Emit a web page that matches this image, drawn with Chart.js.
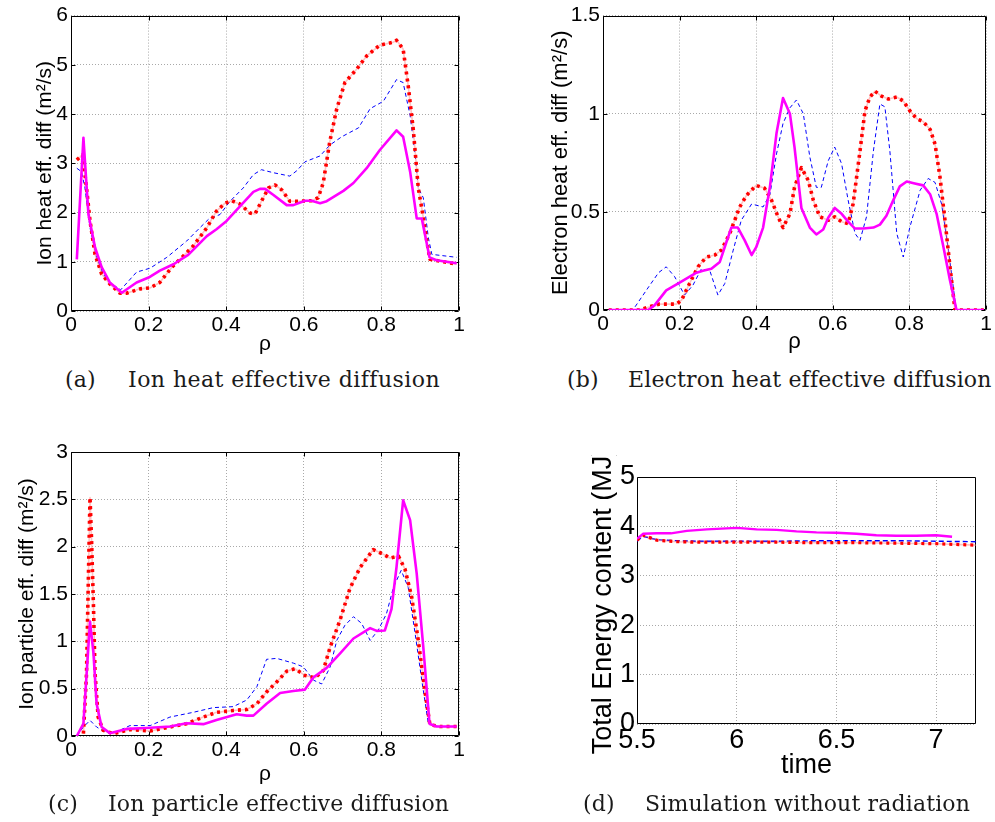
<!DOCTYPE html>
<html>
<head>
<meta charset="utf-8">
<script src="https://cdn.jsdelivr.net/npm/chart.js@4.4.1/dist/chart.umd.min.js"></script>
<style>
  html, body { margin: 0; padding: 0; background: #fff; }
  body { width: 995px; height: 822px; position: relative; overflow: hidden; }
  canvas { position: absolute; }
  .cap { position: absolute; font-family: 'DejaVu Serif', 'Liberation Serif', serif; font-size: 22px;
         line-height: 26px; color: #1a1a1a; white-space: nowrap; letter-spacing: 0.15px; }
</style>
</head>
<body>
<canvas id="panelA"></canvas>
<canvas id="panelB"></canvas>
<canvas id="panelC"></canvas>
<canvas id="panelD"></canvas>

<div class="cap" style="left:65px; top:367px">(a)</div>
<div class="cap" style="left:128px; top:367px; letter-spacing:0.45px">Ion heat effective diffusion</div>
<div class="cap" style="left:567px; top:367px">(b)</div>
<div class="cap" style="left:628px; top:367px">Electron heat effective diffusion</div>
<div class="cap" style="left:48px; top:791px">(c)</div>
<div class="cap" style="left:108px; top:791px">Ion particle effective diffusion</div>
<div class="cap" style="left:583px; top:791px">(d)</div>
<div class="cap" style="left:645px; top:791px">Simulation without radiation</div>

<script>
// ---------- (a) ion heat effective diffusion vs rho ----------
const ionHeatRhoSolid = [0.015, 0.032, 0.045, 0.062, 0.079, 0.10, 0.131, 0.169, 0.20, 0.229, 0.264, 0.302, 0.35, 0.375, 0.401, 0.436, 0.47, 0.487, 0.50, 0.521, 0.556, 0.573, 0.603, 0.62, 0.642, 0.659, 0.702, 0.728, 0.762, 0.796, 0.839, 0.856, 0.874, 0.891, 0.904, 0.924, 0.942, 0.994];
const ionHeatSolid    = [1.05, 3.52, 1.96, 1.29, 0.89, 0.58, 0.37, 0.58, 0.68, 0.82, 0.95, 1.14, 1.52, 1.66, 1.83, 2.13, 2.42, 2.48, 2.48, 2.36, 2.15, 2.15, 2.24, 2.24, 2.19, 2.23, 2.44, 2.6, 2.9, 3.27, 3.67, 3.54, 2.83, 1.88, 1.88, 1.09, 1.03, 0.97];
const ionHeatRhoDotted = [0.015, 0.03, 0.04, 0.049, 0.062, 0.079, 0.10, 0.126, 0.143, 0.178, 0.204, 0.229, 0.26, 0.29, 0.315, 0.35, 0.375, 0.397, 0.414, 0.436, 0.461, 0.474, 0.491, 0.509, 0.526, 0.543, 0.564, 0.59, 0.62, 0.637, 0.65, 0.667, 0.685, 0.706, 0.736, 0.762, 0.796, 0.831, 0.839, 0.856, 0.869, 0.882, 0.895, 0.904, 0.917, 0.925, 0.96, 0.994];
const ionHeatDotted    = [3.07, 3.17, 2.5, 1.83, 1.15, 0.75, 0.55, 0.36, 0.36, 0.45, 0.47, 0.58, 0.89, 1.12, 1.32, 1.69, 2.03, 2.19, 2.24, 2.17, 1.99, 1.97, 2.23, 2.5, 2.56, 2.46, 2.23, 2.23, 2.24, 2.3, 2.6, 3.44, 4.11, 4.64, 4.91, 5.18, 5.40, 5.46, 5.5, 5.32, 4.58, 3.7, 2.5, 2.09, 1.42, 1.05, 1.0, 0.95];
const ionHeatRhoDashed = [0.015, 0.027, 0.036, 0.049, 0.066, 0.083, 0.10, 0.128, 0.169, 0.204, 0.247, 0.298, 0.332, 0.354, 0.384, 0.41, 0.444, 0.47, 0.491, 0.521, 0.564, 0.582, 0.603, 0.642, 0.667, 0.698, 0.741, 0.771, 0.805, 0.839, 0.856, 0.874, 0.887, 0.895, 0.908, 0.921, 0.93, 0.994];
const ionHeatDashed    = [2.9, 2.83, 2.5, 1.69, 1.09, 0.75, 0.58, 0.43, 0.79, 0.87, 1.09, 1.42, 1.69, 1.86, 1.96, 2.23, 2.5, 2.77, 2.87, 2.81, 2.74, 2.85, 3.03, 3.15, 3.37, 3.54, 3.72, 4.11, 4.26, 4.7, 4.64, 3.97, 3.17, 2.5, 2.3, 1.49, 1.15, 1.09];

// ---------- (b) electron heat effective diffusion vs rho ----------
const elecHeatRhoSolid = [0.015, 0.118, 0.135, 0.165, 0.2, 0.244, 0.261, 0.283, 0.305, 0.335, 0.352, 0.37, 0.388, 0.4, 0.418, 0.436, 0.453, 0.47, 0.488, 0.5, 0.518, 0.54, 0.557, 0.575, 0.588, 0.605, 0.623, 0.64, 0.658, 0.68, 0.706, 0.723, 0.74, 0.758, 0.775, 0.793, 0.814, 0.836, 0.854, 0.871, 0.889, 0.906, 0.923, 0.994];
const elecHeatSolid    = [0, 0, 0.025, 0.1, 0.14, 0.19, 0.2, 0.21, 0.245, 0.42, 0.42, 0.355, 0.28, 0.32, 0.42, 0.63, 0.9, 1.08, 1.0, 0.83, 0.52, 0.42, 0.385, 0.41, 0.47, 0.52, 0.49, 0.45, 0.415, 0.415, 0.42, 0.435, 0.48, 0.56, 0.63, 0.655, 0.645, 0.635, 0.59, 0.49, 0.32, 0.15, 0, 0];
const elecHeatRhoDotted = [0.015, 0.096, 0.122, 0.148, 0.192, 0.205, 0.226, 0.248, 0.27, 0.292, 0.309, 0.331, 0.357, 0.375, 0.4, 0.422, 0.44, 0.457, 0.47, 0.488, 0.5, 0.518, 0.536, 0.549, 0.566, 0.588, 0.605, 0.623, 0.64, 0.653, 0.671, 0.684, 0.697, 0.71, 0.727, 0.745, 0.767, 0.784, 0.801, 0.819, 0.836, 0.854, 0.867, 0.88, 0.893, 0.906, 0.919, 0.994];
const elecHeatDotted    = [0, 0, 0.017, 0.03, 0.03, 0.05, 0.135, 0.22, 0.27, 0.28, 0.305, 0.39, 0.525, 0.585, 0.635, 0.62, 0.56, 0.475, 0.42, 0.49, 0.625, 0.725, 0.66, 0.56, 0.475, 0.457, 0.475, 0.45, 0.44, 0.54, 0.81, 1.015, 1.085, 1.115, 1.09, 1.075, 1.085, 1.065, 1.015, 0.975, 0.96, 0.92, 0.845, 0.675, 0.455, 0.22, 0, 0];
const elecHeatRhoDashed = [0.015, 0.078, 0.12, 0.145, 0.165, 0.187, 0.213, 0.235, 0.257, 0.279, 0.3, 0.318, 0.34, 0.361, 0.388, 0.418, 0.436, 0.453, 0.47, 0.488, 0.505, 0.523, 0.54, 0.557, 0.57, 0.588, 0.605, 0.623, 0.64, 0.658, 0.671, 0.688, 0.706, 0.723, 0.736, 0.749, 0.767, 0.784, 0.801, 0.828, 0.849, 0.867, 0.884, 0.902, 0.919, 0.923, 0.994];
const elecHeatDashed    = [0, 0, 0.12, 0.19, 0.22, 0.17, 0.076, 0.127, 0.21, 0.2, 0.076, 0.135, 0.305, 0.457, 0.54, 0.525, 0.59, 0.795, 0.95, 1.03, 1.07, 1.0, 0.78, 0.625, 0.625, 0.76, 0.83, 0.745, 0.56, 0.39, 0.355, 0.475, 0.81, 1.05, 1.035, 0.81, 0.39, 0.27, 0.42, 0.61, 0.67, 0.65, 0.54, 0.305, 0.05, 0, 0];

// ---------- (c) ion particle effective diffusion vs rho ----------
const partRhoSolid = [0.015, 0.032, 0.049, 0.058, 0.066, 0.079, 0.10, 0.143, 0.195, 0.255, 0.298, 0.341, 0.375, 0.427, 0.453, 0.47, 0.504, 0.539, 0.573, 0.603, 0.625, 0.659, 0.693, 0.728, 0.771, 0.788, 0.809, 0.826, 0.839, 0.856, 0.874, 0.891, 0.908, 0.924, 0.942, 0.994];
const partSolid    = [0, 0.13, 1.21, 0.87, 0.34, 0.095, 0.03, 0.075, 0.085, 0.1, 0.135, 0.125, 0.17, 0.23, 0.215, 0.215, 0.34, 0.455, 0.475, 0.49, 0.62, 0.72, 0.87, 1.03, 1.14, 1.11, 1.115, 1.34, 1.785, 2.49, 2.28, 1.715, 0.94, 0.13, 0.1, 0.1];
const partRhoDotted = [0.032, 0.04, 0.045, 0.049, 0.053, 0.058, 0.062, 0.07, 0.083, 0.109, 0.152, 0.204, 0.255, 0.298, 0.341, 0.375, 0.418, 0.453, 0.479, 0.504, 0.53, 0.556, 0.577, 0.603, 0.629, 0.65, 0.668, 0.693, 0.719, 0.745, 0.779, 0.805, 0.822, 0.844, 0.861, 0.878, 0.895, 0.912, 0.925, 0.951, 0.994];
const partDotted    = [0.025, 0.66, 1.71, 2.52, 2.07, 1.36, 0.66, 0.2, 0.06, 0.025, 0.067, 0.053, 0.095, 0.13, 0.2, 0.25, 0.27, 0.28, 0.34, 0.465, 0.57, 0.685, 0.71, 0.64, 0.615, 0.69, 0.94, 1.22, 1.56, 1.78, 1.97, 1.92, 1.88, 1.9, 1.76, 1.47, 1.01, 0.48, 0.12, 0.1, 0.1];
const partRhoDashed = [0.015, 0.032, 0.049, 0.066, 0.083, 0.109, 0.152, 0.204, 0.255, 0.315, 0.367, 0.418, 0.453, 0.479, 0.504, 0.53, 0.573, 0.599, 0.625, 0.646, 0.668, 0.685, 0.706, 0.728, 0.749, 0.771, 0.792, 0.813, 0.831, 0.851, 0.869, 0.887, 0.904, 0.921, 0.942, 0.994];
const partDashed    = [0, 0.095, 0.165, 0.095, 0.053, 0.03, 0.11, 0.11, 0.2, 0.25, 0.3, 0.31, 0.38, 0.52, 0.81, 0.82, 0.77, 0.73, 0.59, 0.55, 0.73, 1.01, 1.17, 1.26, 1.19, 1.01, 1.12, 1.29, 1.57, 1.75, 1.57, 1.08, 0.59, 0.13, 0.1, 0.1];

// ---------- (d) total energy content vs time ----------
const energyTimeSolid = [5.5, 5.53, 5.6, 5.67, 5.75, 5.85, 5.95, 6.0, 6.1, 6.2, 6.3, 6.4, 6.5, 6.6, 6.7, 6.8, 6.9, 7.0, 7.08];
const energySolid     = [3.75, 3.85, 3.86, 3.86, 3.91, 3.94, 3.96, 3.97, 3.94, 3.93, 3.9, 3.88, 3.87, 3.85, 3.82, 3.81, 3.81, 3.82, 3.79];
const energyTimeDotted = [5.5, 5.53, 5.6, 5.7, 5.8, 6.0, 6.2, 6.4, 6.6, 6.8, 7.0, 7.2];
const energyDotted     = [3.72, 3.82, 3.72, 3.69, 3.68, 3.68, 3.68, 3.67, 3.67, 3.66, 3.65, 3.62];
const energyTimeDashed = [5.5, 5.53, 5.6, 5.7, 5.8, 6.0, 6.2, 6.4, 6.6, 6.8, 7.0, 7.2];
const energyDashed     = [3.7, 3.8, 3.73, 3.71, 3.7, 3.7, 3.7, 3.71, 3.71, 3.71, 3.7, 3.69];

// ---------- tick values ----------
const rhoTicks = [0, 0.2, 0.4, 0.6, 0.8, 1];
const ionHeatTicks = [0, 1, 2, 3, 4, 5, 6];
const elecHeatTicks = [0, 0.5, 1, 1.5];
const partTicks = [0, 0.5, 1, 1.5, 2, 2.5, 3];
const timeTicks = [5.5, 6, 6.5, 7];
const energyTicks = [0, 1, 2, 3, 4, 5];

const MAGENTA = '#ff00ff', RED = '#ff0000', PINK = 'rgba(255,120,120,0.45)', BLUE = '#0000ff';
const GRID = '#a9a9a9';

Chart.defaults.font.family = "'Liberation Sans', Arial, Helvetica, sans-serif";
Chart.defaults.color = '#000';

function pts(xs, ys) { return xs.map((x, i) => ({ x: x, y: ys[i] })); }

function traces(sx, sy, dx, dy, bx, by, w) {
  const dotted = pts(dx, dy);
  return [
    { data: pts(sx, sy), borderColor: MAGENTA, borderWidth: w.solid, order: 0 },
    { data: dotted, borderColor: RED, borderWidth: w.dot, borderDash: w.dotDash, borderCapStyle: 'butt', order: 1 },
    { data: dotted, borderColor: PINK, borderWidth: 1.6, order: 2 },
    { data: pts(bx, by), borderColor: BLUE, borderWidth: w.dash, borderDash: w.dashDash, order: 3 }
  ];
}

// axes box with inward tick marks on all four sides
const frame = {
  id: 'frame',
  beforeDatasetsDraw(chart, args, opts) {
    const { ctx, chartArea: a, scales: { x, y } } = chart;
    const L = Math.round(a.left) + 0.5, R = Math.round(a.right) - 0.5;
    const T = Math.round(a.top) + 0.5, B = Math.round(a.bottom) - 0.5;
    const len = opts.len || 0;
    ctx.save();
    ctx.strokeStyle = '#000';
    ctx.lineWidth = 1;
    ctx.setLineDash([]);
    ctx.beginPath();
    ctx.rect(L, T, R - L, B - T);
    if (len) {
      x.ticks.forEach(t => {
        const p = Math.round(x.getPixelForValue(t.value)) + 0.5;
        ctx.moveTo(p, B); ctx.lineTo(p, B - len);
        ctx.moveTo(p, T); ctx.lineTo(p, T + len);
      });
      y.ticks.forEach(t => {
        const p = Math.round(y.getPixelForValue(t.value)) + 0.5;
        ctx.moveTo(L, p); ctx.lineTo(L + len, p);
        ctx.moveTo(R, p); ctx.lineTo(R - len, p);
      });
    }
    ctx.stroke();
    ctx.restore();
  }
};

function panel(id, g, c) {
  const cv = document.getElementById(id);
  cv.width = g.W; cv.height = g.H;
  cv.style.left = g.L + 'px'; cv.style.top = g.T + 'px';
  if (c.filter) cv.style.filter = c.filter;
  return new Chart(cv, {
    type: 'line',
    data: { datasets: c.datasets },
    options: {
      responsive: false,
      animation: false,
      devicePixelRatio: 1,
      layout: { padding: { left: 0, top: g.t - g.T, right: g.L + g.W - g.r, bottom: 0 } },
      elements: { point: { radius: 0 }, line: { tension: 0, fill: false, borderJoinStyle: 'round' } },
      plugins: { legend: { display: false }, tooltip: { enabled: false }, frame: { len: c.tickLen } },
      scales: {
        x: {
          type: 'linear', min: c.xMin, max: c.xMax,
          afterFit: s => { s.height = g.T + g.H - g.b; },
          afterBuildTicks: s => { s.ticks = c.xTicks.map(v => ({ value: v })); },
          grid: { color: GRID, lineWidth: 1, drawTicks: false },
          border: { display: false, dash: [1, 2] },
          ticks: { font: { size: c.tickSize }, padding: c.xTickPad, maxRotation: 0, autoSkip: false, callback: v => String(v) },
          title: { display: true, text: c.xTitle, font: { size: c.titleSize }, padding: { top: 0, bottom: c.xTitlePad } }
        },
        y: {
          type: 'linear', min: c.yMin, max: c.yMax,
          afterFit: s => { s.width = g.l - g.L; },
          afterBuildTicks: s => { s.ticks = c.yTicks.map(v => ({ value: v })); },
          grid: { color: GRID, lineWidth: 1, drawTicks: false },
          border: { display: false, dash: [1, 2] },
          ticks: { font: { size: c.tickSize }, padding: c.yTickPad, autoSkip: false, callback: v => String(v) },
          title: { display: true, text: c.yTitle, font: { size: c.titleSize }, padding: { top: c.yTitlePad, bottom: 0 } }
        }
      }
    },
    plugins: [frame]
  });
}

const thinStyle = { solid: 2.6, dot: 3.6, dotDash: [3, 4], dash: 1, dashDash: [4, 3] };

panel('panelA', { L: 0, T: 0, W: 475, H: 365, l: 71, t: 13, r: 459, b: 311 }, {
  datasets: traces(ionHeatRhoSolid, ionHeatSolid, ionHeatRhoDotted, ionHeatDotted, ionHeatRhoDashed, ionHeatDashed, thinStyle),
  xMin: 0, xMax: 1, yMin: 0, yMax: 6, xTicks: rhoTicks, yTicks: ionHeatTicks,
  xTitle: 'ρ', yTitle: 'Ion heat eff. diff (m²/s)',
  tickSize: 21, titleSize: 21, xTickPad: 2, yTickPad: 3, xTitlePad: 8, yTitlePad: 33, tickLen: 4
});

panel('panelB', { L: 520, T: 0, W: 475, H: 365, l: 603, t: 14, r: 986, b: 310 }, {
  datasets: traces(elecHeatRhoSolid, elecHeatSolid, elecHeatRhoDotted, elecHeatDotted, elecHeatRhoDashed, elecHeatDashed, thinStyle),
  xMin: 0, xMax: 1, yMin: 0, yMax: 1.5, xTicks: rhoTicks, yTicks: elecHeatTicks,
  xTitle: 'ρ', yTitle: 'Electron heat eff. diff (m²/s)',
  tickSize: 21, titleSize: 22, xTickPad: 2, yTickPad: 3, xTitlePad: 10, yTitlePad: 28, tickLen: 4
});

panel('panelC', { L: 0, T: 420, W: 475, H: 375, l: 71, t: 452, r: 459, b: 736 }, {
  datasets: traces(partRhoSolid, partSolid, partRhoDotted, partDotted, partRhoDashed, partDashed, thinStyle),
  xMin: 0, xMax: 1, yMin: 0, yMax: 3, xTicks: rhoTicks, yTicks: partTicks,
  xTitle: 'ρ', yTitle: 'Ion particle eff. diff (m²/s)',
  tickSize: 21, titleSize: 21, xTickPad: 2, yTickPad: 3, xTitlePad: 8, yTitlePad: 15, tickLen: 4
});

panel('panelD', { L: 560, T: 455, W: 435, H: 329, l: 637, t: 477, r: 976, b: 724 }, {
  datasets: traces(energyTimeSolid, energySolid, energyTimeDotted, energyDotted, energyTimeDashed, energyDashed,
                   { solid: 2.4, dot: 3.2, dotDash: [3, 4], dash: 1.4, dashDash: [5, 3] }),
  xMin: 5.5, xMax: 7.2, yMin: 0, yMax: 5, xTicks: timeTicks, yTicks: energyTicks,
  xTitle: 'time', yTitle: 'Total Energy content (MJ)',
  tickSize: 27, titleSize: 27, xTickPad: 0, yTickPad: 2, xTitlePad: 2, yTitlePad: 27, tickLen: 0,
  filter: 'blur(0.6px)'
});
</script>
</body>
</html>
